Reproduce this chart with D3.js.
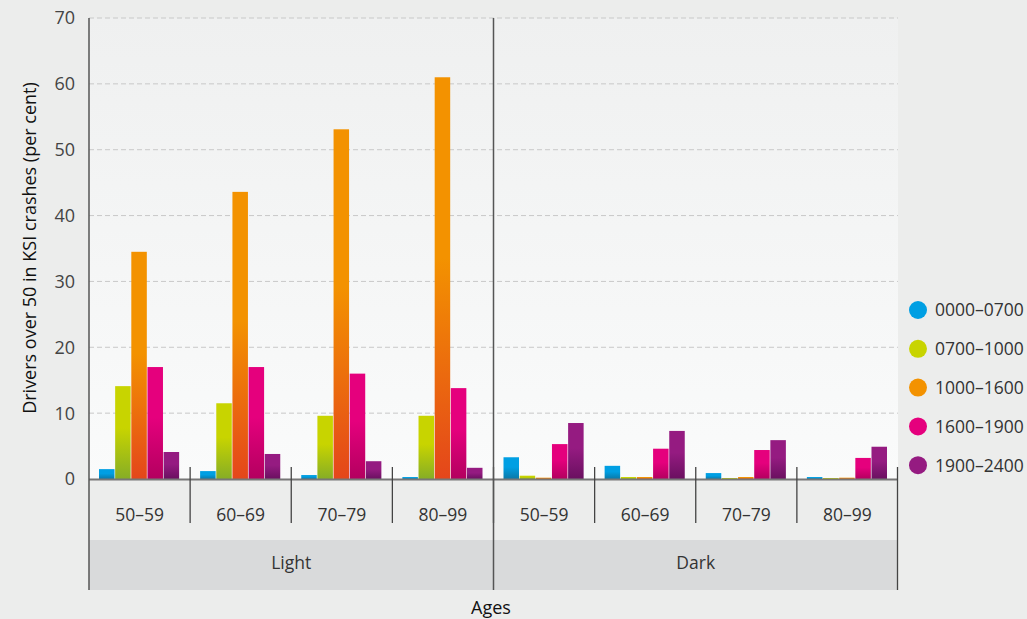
<!DOCTYPE html>
<html><head><meta charset="utf-8">
<script src="https://cdn.jsdelivr.net/npm/d3@7"></script>
<style>body{margin:0;background:#ecedec;}svg{display:block;font-family:"Open Sans","Noto Sans",sans-serif;}</style>
</head><body><svg id="c" width="1027" height="619"></svg>
<script>
const lighting = ["Light", "Dark"];
const ages = ["50–59", "60–69", "70–79", "80–99"];
const series = ["0000–0700", "0700–1000", "1000–1600", "1600–1900", "1900–2400"];
const colors = ["#009fe3", "#c8d400", "#f39200", "#e5007d", "#951b81"];
const darkColors = ["#0a78a8", "#86ad26", "#e4461b", "#b3005f", "#6a1060"];
// values[series][group] ; groups: Light 50-59..80-99, Dark 50-59..80-99
const v0000_0700 = [1.5, 1.2, 0.6, 0.3, 3.3, 2.0, 0.9, 0.3];
const v0700_1000 = [14.1, 11.5, 9.6, 9.6, 0.5, 0.3, 0.15, 0.15];
const v1000_1600 = [34.5, 43.6, 53.1, 61.0, 0.2, 0.3, 0.3, 0.2];
const v1600_1900 = [17.0, 17.0, 16.0, 13.8, 5.3, 4.6, 4.4, 3.2];
const v1900_2400 = [4.1, 3.8, 2.7, 1.7, 8.5, 7.3, 5.9, 4.9];
const yTicks = [0, 10, 20, 30, 40, 50, 60, 70];
const values = [v0000_0700, v0700_1000, v1000_1600, v1600_1900, v1900_2400];

const svg = d3.select("#c");
const L = 89, R = 898, T = 18, B = 479;
const groups = [];
lighting.forEach(l => ages.forEach(a => groups.push(l + "|" + a)));

const y = d3.scaleLinear().domain([0, 70]).range([B, T]);
const x0 = d3.scaleBand().domain(groups).range([L, R]);
const x1 = d3.scaleBand().domain(series).range([10, x0.bandwidth() - 11]).paddingInner(0.04);
const xL = d3.scaleBand().domain(lighting).range([L, R]);

const defs = svg.append("defs");
const bg = defs.append("linearGradient").attr("id", "bg").attr("x1", 0).attr("y1", 0).attr("x2", 0).attr("y2", 1);
bg.append("stop").attr("offset", 0).attr("stop-color", "#eff0f0");
bg.append("stop").attr("offset", 1).attr("stop-color", "#fafbfb");
series.forEach((s, i) => {
  const g = defs.append("linearGradient").attr("id", "g" + i).attr("x1", 0).attr("y1", 0).attr("x2", 0).attr("y2", 1);
  g.append("stop").attr("offset", 0).attr("stop-color", colors[i]);
  g.append("stop").attr("offset", 0.45).attr("stop-color", colors[i]);
  g.append("stop").attr("offset", 1).attr("stop-color", darkColors[i]);
});

svg.append("rect").attr("x", L).attr("y", T).attr("width", R - L).attr("height", B - T).attr("fill", "url(#bg)");

// gridlines
svg.append("g").selectAll("line").data(yTicks.filter(d => d > 0)).join("line")
  .attr("x1", L).attr("x2", R).attr("y1", d => y(d)).attr("y2", d => y(d))
  .attr("stroke", "#c8c8c8").attr("stroke-width", 1).attr("stroke-dasharray", "5,3");

// y tick labels
svg.append("g").selectAll("text").data(yTicks).join("text")
  .attr("x", 75).attr("y", d => y(d)).attr("dy", "0.36em").attr("text-anchor", "end")
  .attr("font-size", 18).attr("fill", "#444").text(d => d);

// bars
const bars = svg.append("g");
series.forEach((s, i) => {
  bars.append("g").selectAll("rect").data(values[i]).join("rect")
    .attr("x", (d, j) => x0(groups[j]) + x1(s))
    .attr("width", x1.bandwidth())
    .attr("y", d => y(d))
    .attr("height", d => B - y(d))
    .attr("fill", "url(#g" + i + ")");
});

// baseline
svg.append("line").attr("x1", L).attr("x2", R).attr("y1", B + 0.5).attr("y2", B + 0.5).attr("stroke", "#777").attr("stroke-width", 2);

// lighting band
svg.append("rect").attr("x", L).attr("y", 540).attr("width", R - L).attr("height", 50).attr("fill", "#d9dadb");

// category ticks
svg.append("g").selectAll("line").data(groups.slice(1).concat(["end"])).join("line")
  .attr("x1", d => d === "end" ? R - 0.5 : x0(d)).attr("x2", d => d === "end" ? R - 0.5 : x0(d))
  .attr("y1", 467).attr("y2", d => d === "end" ? 590 : 523)
  .attr("stroke", "#444").attr("stroke-width", 1.3);

// left axis & divider
svg.append("line").attr("x1", L).attr("x2", L).attr("y1", T).attr("y2", 590).attr("stroke", "#555").attr("stroke-width", 1.5);
svg.append("line").attr("x1", xL("Dark")).attr("x2", xL("Dark")).attr("y1", T).attr("y2", 590).attr("stroke", "#555").attr("stroke-width", 1.5);

// age labels
svg.append("g").selectAll("text").data(groups).join("text")
  .attr("x", d => x0(d) + x0.bandwidth() / 2).attr("y", 515).attr("dy", "0.36em")
  .attr("text-anchor", "middle").attr("font-size", 17.5).attr("fill", "#333")
  .text(d => d.split("|")[1]);

// lighting labels
svg.append("g").selectAll("text").data(lighting).join("text")
  .attr("x", d => xL(d) + xL.bandwidth() / 2).attr("y", 563).attr("dy", "0.36em")
  .attr("text-anchor", "middle").attr("font-size", 17.5).attr("fill", "#333").text(d => d);

// axis titles
svg.append("text").attr("x", 491).attr("y", 608).attr("dy", "0.36em").attr("text-anchor", "middle")
  .attr("font-size", 18).attr("fill", "#111").text("Ages");
svg.append("text").attr("transform", "translate(30,248) rotate(-90)").attr("dy", "0.36em").attr("text-anchor", "middle")
  .attr("font-size", 18).attr("fill", "#111").text("Drivers over 50 in KSI crashes (per cent)");

// legend
const lg = svg.append("g").selectAll("g").data(series).join("g")
  .attr("transform", (d, i) => `translate(918,${310 + i * 38.8})`);
lg.append("circle").attr("r", 9).attr("fill", (d, i) => colors[i]);
lg.append("text").attr("x", 17).attr("dy", "0.36em").attr("font-size", 17.5).attr("fill", "#333").text(d => d);
</script></body></html>
